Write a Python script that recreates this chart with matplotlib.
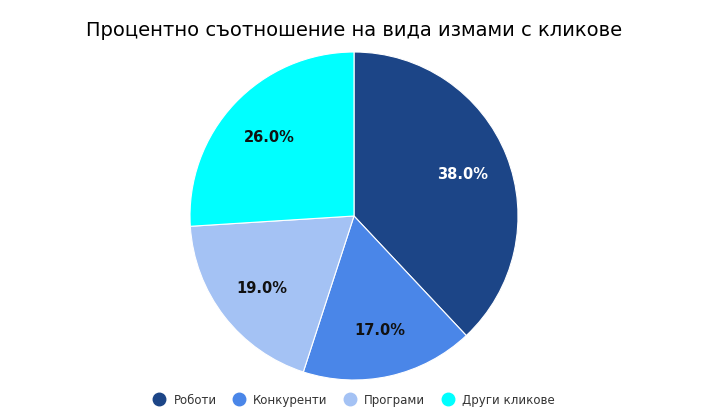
import matplotlib.pyplot as plt
from matplotlib.lines import Line2D

labels = ['Роботи', 'Конкуренти', 'Програми', 'Други кликове']
values = [38.0, 17.0, 19.0, 26.0]
colors = ['#1c4587', '#4a86e8', '#a4c2f4', '#00ffff']
pct_colors = ['white', '#111111', '#111111', '#111111']

fig = plt.figure(figsize=(7.1, 4.14), dpi=100)
W, H = 710, 414
cx, cy, r = 354, 217, 164
ax = fig.add_axes([(cx - r) / W, (H - cy - r) / H, 2 * r / W, 2 * r / H])

wedges, texts, autotexts = ax.pie(
    values, colors=colors, startangle=90, counterclock=False,
    autopct='%.1f%%', pctdistance=0.71, radius=1,
    wedgeprops=dict(edgecolor='white', linewidth=0.8),
)
for t, c in zip(autotexts, pct_colors):
    t.set_color(c)
    t.set_fontsize(10.5)
    t.set_fontweight('bold')
ax.set_xlim(-1, 1)
ax.set_ylim(-1, 1)
ax.set_aspect('equal')

fig.text(cx / W, 1 - 30 / H, 'Процентно съотношение на вида измами с кликове',
         ha='center', va='center', fontsize=14, color='#000000')

handles = [Line2D([0], [0], marker='o', linestyle='', markersize=9,
                  markerfacecolor=c, markeredgecolor=c) for c in colors]
fig.legend(handles, labels, loc='center', bbox_to_anchor=(cx / W, 1 - 401 / H),
           ncol=4, frameon=False, fontsize=8.5, handlelength=1.0,
           handletextpad=0.7, columnspacing=1.4, labelcolor='#333333')

fig.savefig('out.png', dpi=100)
